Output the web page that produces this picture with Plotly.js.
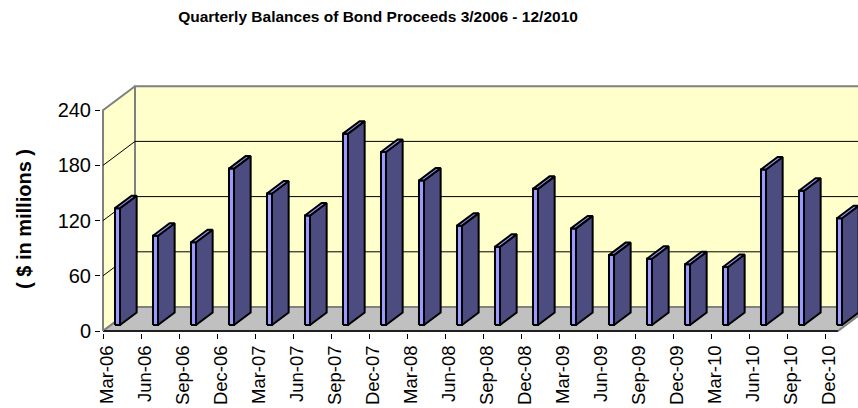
<!DOCTYPE html>
<html>
<head>
<meta charset="utf-8">
<script src="https://cdn.plot.ly/plotly-3.0.1.min.js"></script>
<style>html,body{margin:0;padding:0;background:#fff}#chart{width:858px;height:408px}</style>
</head>
<body>
<div id="chart"></div>
<script>
// ---- data ----
const categories = ["Mar-06","Jun-06","Sep-06","Dec-06","Mar-07","Jun-07","Sep-07","Dec-07","Mar-08","Jun-08",
                    "Sep-08","Dec-08","Mar-09","Jun-09","Sep-09","Dec-09","Mar-10","Jun-10","Sep-10","Dec-10"];
const balances = [127, 97, 90, 170, 143, 119, 208, 188, 157, 108,
                  85, 148, 105, 76, 72, 66, 63, 169, 146, 116];
const yTickValues = [0, 60, 120, 180, 240];
const gridValues = [60, 120, 180];
const titleText = "Quarterly Balances of Bond Proceeds 3/2006 - 12/2010";
const yTitleText = "( $ in millions )";

// ---- 3D projection helpers (oblique depth in data units) ----
const PX_PER_CAT = 38, PX_PER_VAL = 0.92;
const DX = 32 / PX_PER_CAT;      // depth shift in category units
const DY = 24 / PX_PER_VAL;      // depth shift in value units
const yTop = yTickValues[yTickValues.length - 1];
const XR = 19.34;                // right end of floor (category units)
const L = 0.105, R = 0.237, D0 = 0.25, D1 = 0.77;

function X(i, off, d) { return i + off + d * DX; }
function Y(v, d) { return v + d * DY; }

function poly(xs, ys, fill, lineColor, lineWidth) {
  return { type: 'scatter', mode: 'lines', x: xs.concat([xs[0]]), y: ys.concat([ys[0]]),
    fill: 'toself', fillcolor: fill, line: { color: lineColor, width: lineWidth },
    hoverinfo: 'skip', showlegend: false };
}
function line(xs, ys, color, width) {
  return { type: 'scatter', mode: 'lines', x: xs, y: ys, line: { color: color, width: width },
    hoverinfo: 'skip', showlegend: false };
}

const traces = [];
// walls and floor
traces.push(poly([0, 0, DX, DX], [0, yTop, yTop + DY, DY], '#FFFFCC', '#808080', 2));
traces.push(poly([DX, DX, XR + DX, XR + DX], [DY, yTop + DY, yTop + DY, DY], '#FFFFCC', '#808080', 2));
traces.push(poly([0, XR, XR + DX, DX], [0, 0, DY, DY], '#C0C0C0', '#808080', 2));
traces.push(line([0, XR], [0, 0], '#000000', 1.5));
traces.push(line([0, 0], [0, yTop], '#808080', 2));
// gridlines on left wall and back wall
gridValues.forEach(v => {
  traces.push(line([0, DX, XR + DX], [v, v + DY, v + DY], '#000000', 1));
});
// bars
balances.forEach((v, i) => {
  // front face
  traces.push(poly([X(i, L, D0), X(i, R, D0), X(i, R, D0), X(i, L, D0)],
                   [Y(0, D0), Y(0, D0), Y(v, D0), Y(v, D0)], '#9999FF', '#000000', 2));
  // side face
  traces.push(poly([X(i, R, D0), X(i, R, D1), X(i, R, D1), X(i, R, D0)],
                   [Y(0, D0), Y(0, D1), Y(v, D1), Y(v, D0)], '#4C4C80', '#000000', 2));
  // top face
  traces.push(poly([X(i, L, D0), X(i, R, D0), X(i, R, D1), X(i, L, D1)],
                   [Y(v, D0), Y(v, D0), Y(v, D1), Y(v, D1)], '#9999FF', '#000000', 2));
});

const W = 858, H = 408;
const mL = 101, mR = 0, mT = 84, mB = 75;
const xmin = -(103 - mL) / PX_PER_CAT;
const xmax = xmin + (W - mL - mR) / PX_PER_CAT;
const ymin = -((H - mB) - 331) / PX_PER_VAL;
const ymax = ymin + (H - mT - mB) / PX_PER_VAL;

const font = 'Arial, "Liberation Sans", sans-serif';
const layout = {
  width: W, height: H,
  margin: { l: mL, r: mR, t: mT, b: mB, pad: 0 },
  paper_bgcolor: '#ffffff', plot_bgcolor: '#ffffff',
  showlegend: false,
  title: { text: '<b>' + titleText + '</b>', font: { family: font, size: 15.5, color: '#000' },
           xref: 'container', x: 378 / W, xanchor: 'center', yref: 'container', y: 1 - 17 / H, yanchor: 'middle' },
  xaxis: {
    range: [xmin, xmax], showgrid: false, zeroline: false, showline: false,
    tickmode: 'array', tickvals: categories.map((c, i) => i + 0.118), ticktext: categories,
    tickangle: -90, ticks: 'outside', ticklen: 4, tickcolor: 'rgba(0,0,0,0)',
    tickfont: { family: font, size: 18.5, color: '#000' },
    minor: { tickmode: 'array', tickvals: categories.map((c, i) => i), ticks: 'outside', ticklen: 5,
             tickcolor: '#000', tickwidth: 1, showgrid: false },
    fixedrange: true
  },
  yaxis: {
    range: [ymin, ymax], showgrid: false, zeroline: false, showline: false,
    tickmode: 'array', tickvals: yTickValues, ticks: 'outside', ticklen: 5, tickcolor: '#000',
    tickfont: { family: font, size: 20, color: '#000' },
    fixedrange: true
  },
  annotations: [{
    text: '<b>' + yTitleText + '</b>', textangle: -90, showarrow: false,
    xref: 'paper', x: (24 - mL) / (W - mL - mR), xanchor: 'center',
    yref: 'paper', y: ((H - mB) - 219) / (H - mT - mB), yanchor: 'middle',
    font: { family: font, size: 20, color: '#000' }
  }]
};

Plotly.newPlot('chart', traces, layout, { displayModeBar: false, staticPlot: true });
</script>
</body>
</html>
